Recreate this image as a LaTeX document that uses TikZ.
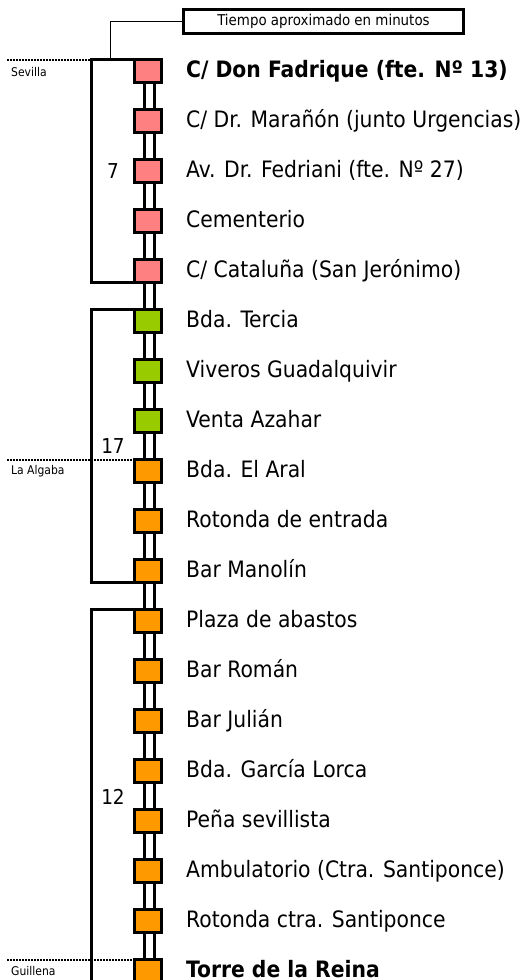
\documentclass[tikz,border=0pt]{standalone}
\usepackage{fontspec}
\setmainfont{DejaVu Sans Condensed}
\pgfdeclarelayer{background}
\pgfsetlayers{background,main}
\definecolor{pinkc}{HTML}{FF8080}
\definecolor{greenc}{HTML}{99CC00}
\definecolor{orangec}{HTML}{FF9900}
\tikzset{
  sq/.style={draw=black, line width=3pt, minimum width=27.6pt, minimum height=23pt, inner sep=0pt, outer sep=0pt},
  stn/.style={anchor=base west, inner sep=0pt, font=\fontsize{22.6}{26}\selectfont},
  rail/.style={draw=black, fill=white, line width=3pt},
  bracket/.style={draw=black, line width=3pt},
  dotline/.style={draw=black, line width=2.5pt, dash pattern=on 2pt off 1pt},
  town/.style={anchor=west, inner sep=0pt, font=\fontsize{12}{14}\selectfont},
  mins/.style={inner sep=0pt, font=\fontsize{20.5}{24}\selectfont},
  titlebox/.style={draw=black, line width=3pt, minimum width=280pt, minimum height=24pt, inner sep=0pt, outer sep=0pt, font=\fontsize{14.9}{17}\selectfont}
}
\begin{document}
\begin{tikzpicture}[x=1pt,y=-1pt]
\useasboundingbox (0,0) rectangle (524,980);
\foreach [count=\i] \c/\t in {
  pinkc/{\textbf{C/ Don Fadrique (fte. Nº 13)}},
  pinkc/{C/ Dr. Marañón (junto Urgencias)},
  pinkc/{Av. Dr. Fedriani (fte. Nº 27)},
  pinkc/{Cementerio},
  pinkc/{C/ Cataluña (San Jerónimo)},
  greenc/{Bda. Tercia},
  greenc/{Viveros Guadalquivir},
  greenc/{Venta Azahar},
  orangec/{Bda. El Aral},
  orangec/{Rotonda de entrada},
  orangec/{Bar Manolín},
  orangec/{Plaza de abastos},
  orangec/{Bar Román},
  orangec/{Bar Julián},
  orangec/{Bda. García Lorca},
  orangec/{Peña sevillista},
  orangec/{Ambulatorio (Ctra. Santiponce)},
  orangec/{Rotonda ctra. Santiponce},
  orangec/{\textbf{Torre de la Reina}}} {
  \pgfmathsetmacro\cy{71.3+50*(\i-1)}
  \node[sq, fill=\c] (s\i) at (148,\cy) {};
  \node[stn] (t\i) at (186,\cy+6) {\t};
}
\begin{pgfonlayer}{background}
\foreach \i in {1,...,18} {
  \pgfmathtruncatemacro\j{\i+1}
  \draw[rail] ([xshift=-3.5pt]s\i.south) rectangle ([xshift=6.5pt]s\j.north);
}
\end{pgfonlayer}
% brackets
\coordinate (xl) at (91,0);
\coordinate (dl) at (7,0);
\coordinate (tc) at (110,0);
\coordinate (bot) at (91,1000);
\draw[dotline] (s1.north west -| dl) -- (s1.north west);
\draw[dotline] (s9.north west -| dl) -- (s9.north west);
\draw[dotline] (s19.north west -| dl) -- (s19.north west);
\draw[bracket] (s1.north west) -- (s1.north west -| xl) -- (s5.south west -| xl) -- (s5.south west);
\draw[bracket] (s6.north west) -- (s6.north west -| xl) -- (s11.south west -| xl) -- (s11.south west);
\draw[bracket] (s12.north west) -| (bot);
% title
\node[titlebox] (title) at (323.5,21.5) {Tiempo aproximado en minutos};
\draw[line width=1pt] (title.west) -| (s1.north west -| tc);
% towns
\node[town] (sev) at (11,72.5) {Sevilla};
\node[town] (alg) at (11,471) {La Algaba};
\node[town] (gui) at (11,971) {Guillena};
% minutes
\node[mins] (m1) at (113,171) {7};
\node[mins] (m2) at (113,446) {17};
\node[mins] (m3) at (113,797) {12};
\end{tikzpicture}
\end{document}
